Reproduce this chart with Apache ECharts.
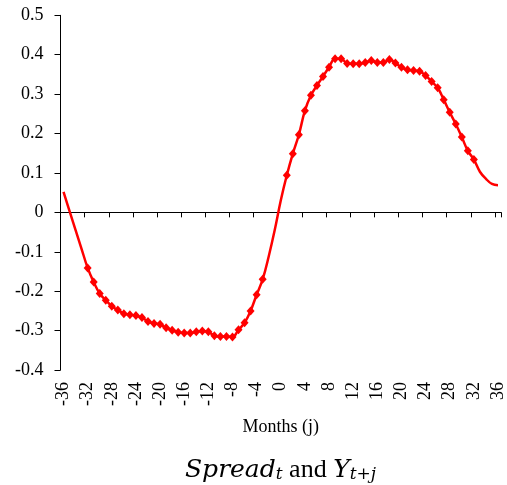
<!DOCTYPE html>
<html>
<head>
<meta charset="utf-8">
<script src="https://cdn.jsdelivr.net/npm/echarts@6/dist/echarts.min.js"></script>
<style>html,body{margin:0;padding:0;background:#fff}#c{width:507px;height:485px}</style>
</head>
<body>
<div id="c"></div>
<script>
// Months (j)
const months = [-36,-35,-34,-33,-32,-31,-30,-29,-28,-27,-26,-25,-24,-23,-22,-21,-20,-19,-18,-17,-16,-15,-14,-13,-12,-11,-10,-9,-8,-7,-6,-5,-4,-3,-2,-1,0,1,2,3,4,5,6,7,8,9,10,11,12,13,14,15,16,17,18,19,20,21,22,23,24,25,26,27,28,29,30,31,32,33,34,35,36];
// Correlation of Spread_t and Y_{t+j}
const corr = [0.052,0.003,-0.045,-0.093,-0.141,-0.177,-0.206,-0.223,-0.238,-0.248,-0.257,-0.260,-0.262,-0.267,-0.277,-0.282,-0.284,-0.293,-0.299,-0.304,-0.306,-0.306,-0.303,-0.301,-0.303,-0.313,-0.315,-0.315,-0.316,-0.298,-0.280,-0.250,-0.209,-0.170,-0.112,-0.045,0.030,0.094,0.149,0.197,0.258,0.297,0.322,0.345,0.368,0.390,0.390,0.378,0.377,0.377,0.380,0.385,0.380,0.380,0.388,0.379,0.368,0.362,0.360,0.358,0.347,0.332,0.316,0.286,0.254,0.224,0.191,0.156,0.134,0.103,0.085,0.072,0.069];
// months that carry a marker
const markerRanges = [[-32,-3],[1,32]];
const yTicks = {min:-0.4, max:0.5, interval:0.1};

const isMarked = m => markerRanges.some(r => m >= r[0] && m <= r[1]);
const seriesData = corr.map((v,i) => ({
  value: v,
  symbol: isMarked(months[i]) ? 'diamond' : 'none'
}));

const font = 'Liberation Serif';
const chart = echarts.init(document.getElementById('c'), null, {renderer:'canvas'});
chart.setOption({
  animation:false,
  backgroundColor:'#fff',
  grid:{left:60.5, right:4.2, top:15.3, bottom:115, containLabel:false},
  title:{
    left:275.5, top:447, textAlign:'center',
    text:'{m|Spread}{s|t}{n| and }{m|Y}{s|t+j}',
    textStyle:{
      fontWeight:'normal',
      rich:{
        m:{fontFamily:'DejaVu Serif', fontStyle:'italic', fontWeight:'normal', fontSize:25, color:'#000', lineHeight:31, verticalAlign:'bottom'},
        s:{fontFamily:'DejaVu Serif', fontStyle:'italic', fontWeight:'normal', fontSize:17, color:'#000', lineHeight:22, verticalAlign:'bottom', padding:[8,0,0,0]},
        n:{fontFamily:font, fontWeight:'normal', fontSize:26, color:'#000', lineHeight:31, verticalAlign:'bottom'}
      }
    }
  },
  xAxis:[{
    type:'category', data:months, boundaryGap:true,
    axisLine:{onZero:true, lineStyle:{color:'#000', width:1}},
    axisTick:{show:true, interval:3, length:5, inside:false, lineStyle:{color:'#000'}},
    axisLabel:{show:false},
    splitLine:{show:false}
  },{
    type:'category', data:months, boundaryGap:true, position:'bottom',
    axisLine:{show:false, onZero:false},
    axisTick:{show:false},
    axisLabel:{interval:3, rotate:90, margin:12, fontFamily:font, fontSize:18, color:'#000'},
    name:'Months (j)', nameLocation:'middle', nameGap:48,
    nameTextStyle:{fontFamily:font, fontSize:18, color:'#000'},
    splitLine:{show:false}
  }],
  yAxis:{
    type:'value', min:yTicks.min, max:yTicks.max, interval:yTicks.interval,
    axisLine:{show:true, lineStyle:{color:'#000', width:1}},
    axisTick:{show:true, length:6, lineStyle:{color:'#000'}},
    axisLabel:{margin:17, fontFamily:font, fontSize:18, color:'#000'},
    splitLine:{show:false}
  },
  series:[{
    type:'line', xAxisIndex:0, data:seriesData, smooth:0.4,
    symbolSize:[8,9],
    lineStyle:{color:'#ff0000', width:2.5},
    itemStyle:{color:'#ff0000'},
    showAllSymbol:true
  }]
});
</script>
</body>
</html>
